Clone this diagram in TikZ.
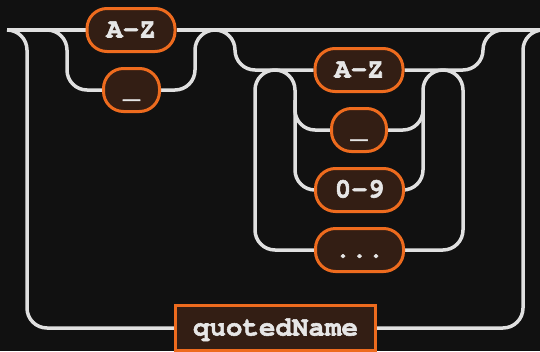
\documentclass[tikz,border=0pt]{standalone}
\usepackage{fontspec}
\setmonofont{TeX Gyre Cursor}[BoldFeatures={FakeBold=2}]
\usetikzlibrary{backgrounds}
\pgfdeclarelayer{bgzero}
\pgfsetlayers{bgzero,background,main}
\definecolor{bgc}{HTML}{111111}
\definecolor{wire}{HTML}{E0E0E0}
\definecolor{boxfill}{HTML}{331E14}
\definecolor{boxline}{HTML}{EE6B1E}
\definecolor{txt}{HTML}{E6E6E6}
\tikzset{
  term/.style={draw=boxline, fill=boxfill, line width=3pt, rounded corners=20pt,
    minimum width=88pt, minimum height=43pt, inner sep=0pt, text=txt,
    font=\ttfamily\bfseries\fontsize{27.5}{30}\selectfont, text height=15pt, text depth=0pt},
  nonterm/.style={term, rounded corners=0pt, minimum width=200pt, minimum height=45pt},
  wireline/.style={draw=wire, line width=3.5pt, rounded corners=20pt},
}
\begin{document}
\begin{tikzpicture}[x=1pt,y=-1pt]
\begin{pgfonlayer}{bgzero}
\fill[bgc] (0,0) rectangle (540,351);
\end{pgfonlayer}
\useasboundingbox (0,0) rectangle (540,351);

\node[term] (az1) at (131,30) {A-Z};
\node[term,minimum width=56pt] (us1) at (131.5,90) {\_};
\node[term] (az2) at (359,70) {A-Z};
\node[term,minimum width=55pt] (us2) at (359,130) {\_};
\node[term] (d09) at (359.5,190) {0-9};
\node[term] (dots) at (359.5,250) {...};
\node[nonterm] (qn) at (275.5,328) {quotedName};

\coordinate (start) at (7,30);
\coordinate (endR) at (545,30);
\coordinate (b1) at (47,30);
\coordinate (m1) at (215,30);
\coordinate (m2) at (503,30);
\coordinate (lp) at (275,70);
\coordinate (rp) at (443,70);

\begin{scope}[on background layer]
% main line
\draw[wireline] (start) -- (az1.west);
\draw[wireline] (az1.east) -- (endR);
% first choice: underscore
\draw[wireline] (b1) -- (67,30) -- (67,90) -- (us1.west);
\draw[wireline] (us1.east) -- (195,90) -- (195,30) -- (m1);
% outer choice: quotedName
\draw[wireline] (start) -- (27,30) -- (27,328) -- (qn.west);
\draw[wireline] (qn.east) -- (523,328) -- (523,30) -- (endR);
% optional repeated group
\draw[wireline] (m1) -- (235,30) -- (235,70) -- (az2.west);
\draw[wireline] (az2.east) -- (483,70) -- (483,30) -- (m2);
% loop back through ...
\draw[wireline] (lp) -- (255,70) -- (255,250) -- (dots.west);
\draw[wireline] (dots.east) -- (463,250) -- (463,70) -- (rp);
% inner choice
\draw[wireline] (lp) -- (295,70) -- (295,190) -- (d09.west);
\draw[wireline] (295,100) -- (295,130) -- (us2.west);
\draw[wireline] (us2.east) -- (423,130) -- (423,100);
\draw[wireline] (d09.east) -- (423,190) -- (423,70) -- (rp);
\end{scope}
\end{tikzpicture}
\end{document}
